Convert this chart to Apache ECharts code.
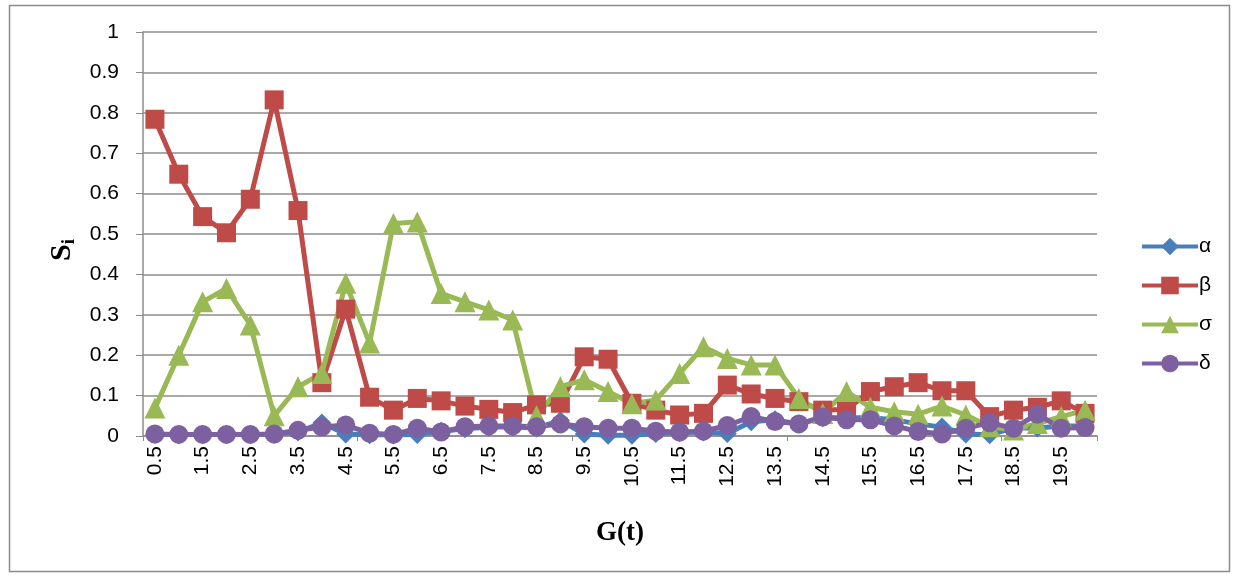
<!DOCTYPE html>
<html>
<head>
<meta charset="utf-8">
<script src="https://cdn.jsdelivr.net/npm/echarts@6/dist/echarts.min.js"></script>
<style>
  html, body { margin: 0; padding: 0; background: #fff; }
  #chart { width: 1235px; height: 575px; }
</style>
</head>
<body>
<div id="chart"></div>
<script>
// G(t) categories 0.5 .. 20
const categories = ["0.5","1","1.5","2","2.5","3","3.5","4","4.5","5",
  "5.5","6","6.5","7","7.5","8","8.5","9","9.5","10",
  "10.5","11","11.5","12","12.5","13","13.5","14","14.5","15",
  "15.5","16","16.5","17","17.5","18","18.5","19","19.5","20"];

const alpha = [0.004,0.004,0.004,0.004,0.004,0.004,0.010,0.032,0.005,0.003,
  0.003,0.004,0.012,0.018,0.022,0.022,0.020,0.038,0.005,0.002,
  0.002,0.006,0.008,0.010,0.006,0.035,0.040,0.030,0.045,0.045,
  0.045,0.040,0.030,0.022,0.005,0.003,0.020,0.020,0.025,0.025];

const beta = [0.784,0.648,0.543,0.503,0.586,0.832,0.558,0.132,0.314,0.096,
  0.064,0.093,0.087,0.074,0.066,0.058,0.077,0.081,0.196,0.190,
  0.081,0.064,0.052,0.056,0.126,0.104,0.093,0.085,0.064,0.066,
  0.110,0.122,0.132,0.112,0.112,0.048,0.064,0.071,0.087,0.056];

const sigma = [0.069,0.200,0.332,0.365,0.275,0.050,0.122,0.155,0.378,0.230,
  0.526,0.530,0.353,0.332,0.312,0.287,0.050,0.122,0.139,0.110,
  0.080,0.089,0.155,0.221,0.192,0.176,0.176,0.093,0.056,0.110,
  0.071,0.060,0.054,0.074,0.052,0.023,0.015,0.031,0.048,0.064];

const delta = [0.005,0.004,0.004,0.004,0.004,0.005,0.014,0.022,0.027,0.007,
  0.004,0.019,0.010,0.023,0.025,0.025,0.023,0.030,0.023,0.019,
  0.019,0.012,0.010,0.012,0.026,0.048,0.036,0.030,0.047,0.040,
  0.040,0.025,0.011,0.005,0.019,0.033,0.019,0.054,0.019,0.021];

const yTicks = [0, 0.1, 0.2, 0.3, 0.4, 0.5, 0.6, 0.7, 0.8, 0.9, 1];

const chart = echarts.init(document.getElementById("chart"));
const font = "Liberation Sans";

// helper para criar cada serie
const makeSeries = (name, data, color, symbol, size) => ({
  name: name,
  type: "line",
  data: data,
  symbol: symbol,
  symbolSize: size,
  showAllSymbol: true,
  lineStyle: { color: color, width: 5 },
  itemStyle: { color: color },
  emphasis: { disabled: true },
  animation: false
});

chart.setOption({
  animation: false,
  grid: { left: 143, right: 138, top: 32, bottom: 139 },
  legend: {
    orient: "vertical",
    left: 1135,
    top: 231,
    itemGap: 18,
    itemWidth: 56,
    itemHeight: 22,
    lineStyle: { width: 4 },
    textStyle: { fontFamily: font, fontSize: 21, color: "#000", padding: [0, 0, 0, -4] },
    data: ["α", "β", "σ", "δ"]
  },
  xAxis: {
    type: "category",
    data: categories,
    boundaryGap: true,
    axisLine: { lineStyle: { color: "#8c8c8c", width: 1.5 } },
    axisTick: {
      show: true,
      length: 5,
      lineStyle: { color: "#8c8c8c" },
      interval: (i) => i % 9 === 0
    },
    axisLabel: {
      interval: 1,
      rotate: 90,
      fontFamily: font,
      fontSize: 21,
      color: "#000",
      margin: 10
    },
    name: "G(t)",
    nameLocation: "middle",
    nameGap: 84,
    nameTextStyle: { fontFamily: "Liberation Serif", fontWeight: "bold", fontSize: 27, color: "#000" }
  },
  yAxis: {
    type: "value",
    min: 0,
    max: 1,
    interval: 0.1,
    axisLine: { show: true, lineStyle: { color: "#8c8c8c", width: 1.5 } },
    axisTick: { show: true, length: 7, inside: false, lineStyle: { color: "#8c8c8c" } },
    splitLine: { lineStyle: { color: "#8c8c8c", width: 1.5 } },
    axisLabel: {
      fontFamily: font,
      fontSize: 21,
      color: "#000",
      margin: 24,
      formatter: (v) => {
        const t = yTicks.find((x) => Math.abs(x - v) < 1e-6);
        return t === undefined ? "" : String(t);
      }
    }
  },
  graphic: [
    {
      type: "rect",
      left: 7,
      top: 3,
      shape: { width: 1220, height: 566 },
      style: { fill: "none", stroke: "#8c8c8c", lineWidth: 1.5 },
      silent: true
    },
    {
      type: "text",
      x: 62,
      y: 250,
      rotation: Math.PI / 2,
      style: {
        text: "{s|S}{i|i}",
        rich: {
          s: { fontFamily: "Liberation Serif", fontWeight: "bold", fontSize: 30, color: "#000" },
          i: { fontFamily: "Liberation Serif", fontWeight: "bold", fontSize: 19, color: "#000", padding: [14, 0, 0, 0] }
        },
        align: "center",
        verticalAlign: "middle"
      }
    }
  ],
  series: [
    makeSeries("α", alpha, "#4A7EBB", "diamond", 19),
    makeSeries("β", beta, "#BE4B48", "rect", 19),
    makeSeries("σ", sigma, "#98B954", "triangle", 21),
    makeSeries("δ", delta, "#7D60A0", "circle", 19)
  ]
});
</script>
</body>
</html>
